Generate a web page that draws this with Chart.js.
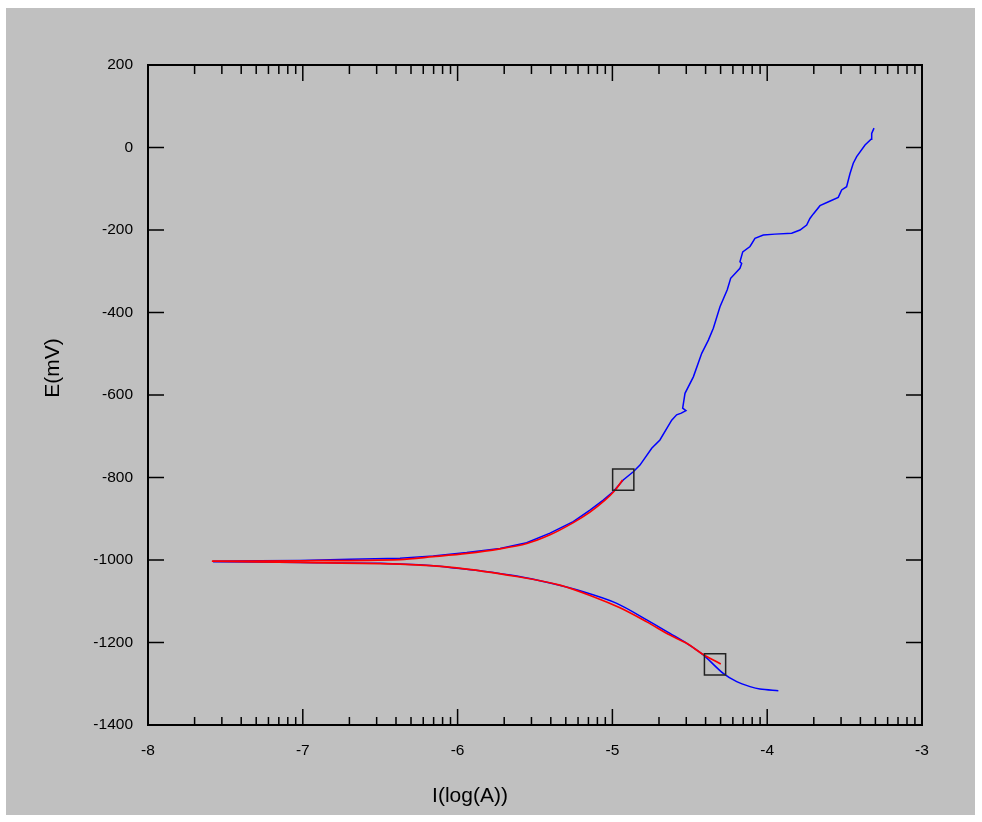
<!DOCTYPE html>
<html><head><meta charset="utf-8">
<script src="https://cdn.jsdelivr.net/npm/chart.js@4/dist/chart.umd.min.js"></script>
<style>html,body{margin:0;padding:0;background:#fff;}canvas{display:block;}</style>
</head><body>
<canvas id="c" width="982" height="822"></canvas>
<script>
// ---- data (x = log10 of current in A, y = potential in mV) ----
const measAnodicLogI = [-7.580,-7.276,-7.018,-6.695,-6.372,-6.157,-5.941,-5.726,-5.554,-5.403,-5.253,-5.145,-5.059,-4.994,-4.930,-4.865,-4.822,-4.746,-4.693,-4.617,-4.585,-4.555,-4.525,-4.546,-4.531,-4.477,-4.423,-4.380,-4.348,-4.305,-4.258,-4.236,-4.176,-4.165,-4.176,-4.158,-4.111,-4.079,-4.025,-3.950,-3.842,-3.788,-3.745,-3.724,-3.702,-3.659,-3.600,-3.541,-3.519,-3.487,-3.465,-3.444,-3.422,-3.368,-3.329,-3.325,-3.310];
const measAnodicE    = [-1003,-1002,-1001,-998,-996,-990,-982,-972,-958,-935,-907,-879,-855,-834,-806,-786,-770,-729,-709,-661,-648,-644,-638,-632,-596,-556,-499,-467,-438,-386,-345,-317,-293,-281,-277,-253,-240,-220,-212,-210,-208,-200,-188,-172,-161,-141,-131,-121,-103,-95,-63,-38,-22,6,20,34,47];

const measCathodicLogI = [-7.580,-7.018,-6.501,-6.157,-6.006,-5.834,-5.618,-5.403,-5.188,-4.972,-4.778,-4.628,-4.520,-4.413,-4.284,-4.197,-4.111,-4.047,-3.928];
const measCathodicE    = [-1004,-1006,-1008,-1014,-1020,-1027,-1039,-1056,-1077,-1105,-1145,-1178,-1202,-1230,-1275,-1295,-1307,-1313,-1317];

const fitAnodicLogI = [-7.587,-7.018,-6.372,-6.159,-5.939,-5.726,-5.552,-5.403,-5.255,-5.145,-5.048,-4.983,-4.934];
const fitAnodicE    = [-1003,-1002,-999,-992,-984,-973,-960,-939,-910,-884,-855,-831,-806];

const fitCathodicLogI = [-7.587,-7.018,-6.372,-6.006,-5.618,-5.339,-5.123,-4.951,-4.778,-4.628,-4.520,-4.413,-4.300];
const fitCathodicE    = [-1003,-1006,-1010,-1019,-1040,-1061,-1089,-1116,-1150,-1182,-1202,-1229,-1252];

const markerLogI = [-4.930,-4.337];
const markerE    = [-805,-1253];

const xTickValues = [-8,-7,-6,-5,-4,-3];
const yTickValues = [-1400,-1200,-1000,-800,-600,-400,-200,0,200];
const xTitle = 'I(log(A))';
const yTitle = 'E(mV)';

const pts = (xs, ys) => xs.map((v, i) => ({x: v, y: ys[i]}));

const FONT = '"Liberation Sans", Arial, sans-serif';

const framePlugin = {
  id: 'frame',
  beforeDraw(chart) {
    const ctx = chart.ctx;
    ctx.save();
    ctx.fillStyle = '#c0c0c0';
    ctx.fillRect(6, 8, 969, 807);
    ctx.restore();
  },
  afterDraw(chart) {
    const ctx = chart.ctx;
    const {left, right, top, bottom} = chart.chartArea;
    const xs = chart.scales.x, ys = chart.scales.y;
    ctx.save();
    ctx.strokeStyle = '#000';
    ctx.lineWidth = 1.5;
    ctx.beginPath();
    for (let d = 0; d < xTickValues.length; d++) {
      const v = xTickValues[d];
      const px = xs.getPixelForValue(v);
      ctx.moveTo(px, bottom); ctx.lineTo(px, bottom - 16);
      ctx.moveTo(px, top); ctx.lineTo(px, top + 16);
      if (d < xTickValues.length - 1) {
        for (let k = 2; k <= 9; k++) {
          const m = xs.getPixelForValue(v + Math.log10(k));
          ctx.moveTo(m, bottom); ctx.lineTo(m, bottom - 8);
          ctx.moveTo(m, top); ctx.lineTo(m, top + 9);
        }
      }
    }
    for (const v of yTickValues) {
      const py = ys.getPixelForValue(v);
      ctx.moveTo(left, py); ctx.lineTo(left + 16, py);
      ctx.moveTo(right, py); ctx.lineTo(right - 16, py);
    }
    ctx.stroke();
    ctx.lineWidth = 2;
    ctx.strokeRect(left, top, right - left, bottom - top);
    ctx.fillStyle = '#000';
    ctx.font = '21px ' + FONT;
    ctx.textAlign = 'center';
    ctx.textBaseline = 'alphabetic';
    ctx.fillText(xTitle, 470, 802);
    ctx.translate(59, 368);
    ctx.rotate(-Math.PI / 2);
    ctx.fillText(yTitle, 0, 0);
    ctx.restore();
  }
};

new Chart(document.getElementById('c'), {
  type: 'scatter',
  data: {
    datasets: [
      { label: 'markers', data: pts(markerLogI, markerE), showLine: false,
        pointStyle: 'rect', pointRadius: 15, pointHoverRadius: 15,
        pointBorderColor: '#222', pointBackgroundColor: 'rgba(0,0,0,0)', pointBorderWidth: 1.5 },
      { label: 'fit anodic', data: pts(fitAnodicLogI, fitAnodicE), showLine: true,
        borderColor: '#ff0000', borderWidth: 1.7, pointRadius: 0, tension: 0.3 },
      { label: 'fit cathodic', data: pts(fitCathodicLogI, fitCathodicE), showLine: true,
        borderColor: '#ff0000', borderWidth: 1.7, pointRadius: 0, tension: 0.3 },
      { label: 'anodic', data: pts(measAnodicLogI, measAnodicE), showLine: true,
        borderColor: '#0000ff', borderWidth: 1.5, pointRadius: 0, tension: 0 },
      { label: 'cathodic', data: pts(measCathodicLogI, measCathodicE), showLine: true,
        borderColor: '#0000ff', borderWidth: 1.5, pointRadius: 0, tension: 0.3 }
    ]
  },
  options: {
    responsive: false,
    animation: false,
    devicePixelRatio: 1,
    layout: { padding: { top: 65, right: 60, bottom: 0, left: 0 } },
    plugins: { legend: { display: false }, tooltip: { enabled: false } },
    scales: {
      x: {
        type: 'linear', min: -8, max: -3,
        grid: { display: false, drawTicks: false },
        border: { display: false },
        afterFit(s) { s.height = 97; },
        afterBuildTicks(s) { s.ticks = xTickValues.map(v => ({value: v})); },
        ticks: { padding: 16, color: '#000', font: { family: FONT, size: 15.5 },
                 maxRotation: 0, autoSkip: false, callback: v => String(v) }
      },
      y: {
        type: 'linear', min: -1400, max: 200,
        grid: { display: false, drawTicks: false },
        border: { display: false },
        afterFit(s) { s.width = 148; },
        afterBuildTicks(s) { s.ticks = yTickValues.map(v => ({value: v})); },
        ticks: { padding: 15, color: '#000', font: { family: FONT, size: 15.5 },
                 autoSkip: false, callback: v => String(v) }
      }
    }
  },
  plugins: [framePlugin]
});
</script>
</body></html>
